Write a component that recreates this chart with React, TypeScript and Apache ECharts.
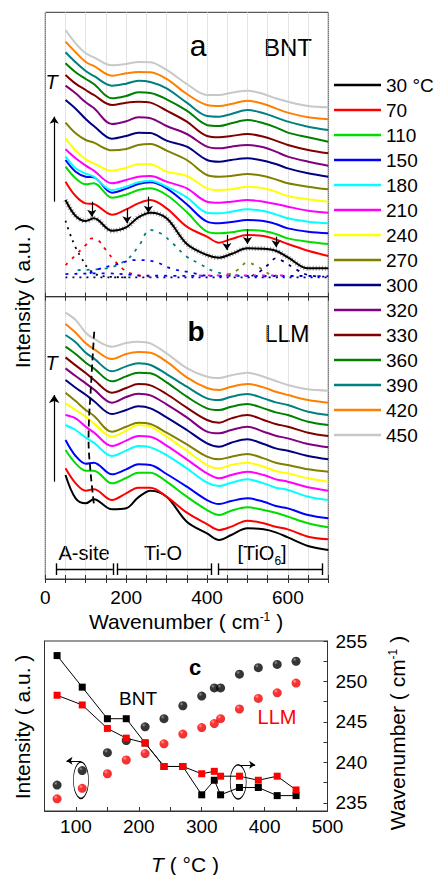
import React, { useEffect, useRef } from 'react';
import * as echarts from 'echarts';

const FONT = 'Liberation Sans, Arial, sans-serif';

// ---------- panels a & b : Raman spectra ----------
const TEMPS = ['30 °C', '70', '110', '150', '180', '210', '240', '270', '300', '320', '330', '360', '390', '420', '450'];
const COLORS = ['#000000', '#ff0000', '#00dd00', '#0000ff', '#00ffff', '#ff00ff', '#ffff00', '#808000', '#000080', '#800080', '#800000', '#008000', '#008080', '#ff8000', '#c8c8c8'];
const WAVENUMBERS = [50, 75, 100, 120, 165, 200, 230, 260, 300, 350, 400, 430, 460, 500, 540, 570, 600, 650, 700];

// BNT (offset intensity, a.u.)
const bnt30 = [290, 242, 227, 235, 198, 208, 238, 252, 235, 158, 125, 117, 128, 145, 144, 138, 118, 85, 85];
const bnt70 = [345, 302, 280, 278, 246, 262, 280, 290, 265, 210, 180, 162, 173, 185, 182, 172, 158, 138, 122];
const bnt110 = [390, 355, 337, 340, 297, 306, 320, 325, 305, 254, 195, 190, 193, 200, 197, 188, 175, 165, 158];
const bnt150 = [410, 375, 360, 358, 312, 324, 338, 343, 325, 277, 225, 220, 224, 230, 227, 218, 205, 195, 190];
const bnt180 = [420, 385, 369, 360, 320, 330, 343, 348, 330, 298, 252, 250, 255, 262, 257, 247, 235, 225, 220];
const bnt210 = [442, 415, 393, 378, 340, 350, 360, 362, 345, 325, 285, 282, 285, 290, 285, 278, 270, 258, 252];
const bnt240 = [475, 438, 412, 400, 378, 387, 397, 397, 375, 362, 325, 320, 322, 330, 325, 315, 302, 292, 285];
const bnt270 = [522, 490, 470, 462, 439, 443, 455, 458, 438, 410, 365, 360, 362, 368, 362, 352, 340, 330, 322];
const bnt300 = [590, 564, 533, 512, 474, 482, 492, 491, 468, 450, 410, 405, 410, 415, 408, 398, 385, 370, 360];
const bnt320 = [633, 610, 583, 566, 518, 526, 538, 535, 512, 488, 450, 445, 450, 455, 448, 435, 420, 405, 393];
const bnt330 = [665, 639, 620, 605, 575, 582, 585, 582, 558, 525, 482, 478, 482, 488, 480, 468, 455, 440, 430];
const bnt360 = [700, 673, 653, 638, 595, 602, 613, 611, 592, 558, 515, 512, 520, 530, 520, 508, 492, 478, 465];
const bnt390 = [733, 703, 677, 662, 633, 639, 648, 644, 625, 582, 542, 540, 548, 560, 550, 538, 525, 510, 500];
const bnt420 = [765, 733, 704, 692, 663, 670, 674, 673, 653, 608, 575, 572, 578, 588, 578, 565, 552, 538, 532];
const bnt450 = [800, 760, 730, 718, 694, 698, 704, 703, 680, 638, 605, 605, 612, 618, 608, 595, 585, 572, 568];
const BNT_SPECTRA = [bnt30, bnt70, bnt110, bnt150, bnt180, bnt210, bnt240, bnt270, bnt300, bnt320, bnt330, bnt360, bnt390, bnt420, bnt450];

// LLM (offset intensity, a.u.)
const llm30 = [312, 242, 227, 239, 209, 212, 245, 265, 247, 172, 137, 117, 132, 152, 149, 140, 125, 99, 87];
const llm70 = [332, 287, 265, 269, 237, 257, 274, 274, 247, 199, 165, 147, 157, 175, 167, 157, 149, 127, 119];
const llm110 = [387, 347, 325, 325, 287, 303, 319, 319, 292, 247, 207, 192, 205, 215, 207, 199, 187, 167, 155];
const llm150 = [417, 369, 346, 349, 314, 329, 344, 342, 315, 277, 237, 225, 234, 242, 232, 219, 212, 192, 182];
const llm180 = [462, 447, 424, 409, 369, 385, 399, 395, 372, 332, 289, 279, 289, 299, 287, 274, 267, 247, 237];
const llm210 = [492, 482, 457, 440, 399, 415, 429, 427, 400, 359, 317, 302, 312, 322, 312, 299, 292, 275, 265];
const llm240 = [527, 507, 487, 467, 427, 445, 462, 457, 427, 385, 342, 332, 342, 349, 337, 324, 317, 302, 292];
const llm270 = [559, 534, 507, 490, 442, 457, 469, 465, 439, 404, 367, 359, 367, 375, 362, 349, 342, 329, 322];
const llm300 = [597, 574, 553, 534, 495, 507, 518, 512, 485, 447, 407, 397, 409, 419, 405, 392, 385, 369, 359];
const llm320 = [632, 609, 587, 569, 529, 546, 556, 551, 524, 485, 442, 437, 447, 457, 442, 430, 422, 405, 395];
const llm330 = [665, 641, 618, 598, 559, 573, 585, 581, 555, 514, 477, 469, 482, 492, 477, 465, 457, 439, 429];
const llm360 = [697, 675, 649, 632, 593, 608, 619, 617, 590, 547, 512, 507, 517, 525, 512, 500, 492, 472, 462];
const llm390 = [732, 710, 679, 662, 623, 638, 647, 642, 615, 577, 542, 537, 547, 555, 542, 530, 522, 502, 492];
const llm420 = [765, 739, 707, 690, 660, 675, 681, 679, 652, 605, 573, 567, 577, 585, 575, 562, 552, 537, 529];
const llm450 = [799, 777, 739, 721, 697, 708, 712, 707, 677, 633, 607, 603, 611, 619, 607, 594, 582, 569, 565];
const LLM_SPECTRA = [llm30, llm70, llm110, llm150, llm180, llm210, llm240, llm270, llm300, llm320, llm330, llm360, llm390, llm420, llm450];

// BNT 30 °C fitted components [wavenumber, intensity]
const fitBlack = [[50, 228], [60, 192], [75, 148], [90, 115], [110, 80], [140, 62], [200, 58]];
const fitRed = [[50, 95], [75, 125], [100, 155], [115, 175], [130, 170], [150, 140], [170, 110], [190, 85], [215, 68], [260, 60]];
const fitTeal = [[80, 80], [150, 85], [200, 110], [230, 150], [260, 200], [285, 190], [315, 160], [350, 120], [380, 100], [420, 75], [470, 65], [550, 60]];
const fitBlue = [[110, 70], [130, 82], [170, 95], [225, 110], [270, 105], [310, 85], [350, 75], [400, 62]];
const fitOlive = [[430, 60], [450, 65], [475, 80], [500, 102], [525, 90], [555, 68], [590, 60]];
const fitNavy = [[510, 62], [530, 75], [555, 100], [570, 115], [590, 105], [620, 82], [650, 65], [690, 60]];
const fitBaseNavy = [[50, 58], [700, 58]];
const fitBaseBlue = [[50, 68], [150, 70], [250, 63], [700, 62]];
const fitBaseMagenta = [[380, 64], [600, 64]];

// peak markers on BNT 30 °C : [wavenumber, from, to]
const peakArrows = [[115, 285, 240], [202, 265, 220], [255, 300, 252], [449, 185, 140], [500, 202, 158], [571, 180, 148]];
// A-site peak position guide in LLM
const aSiteGuide = [[121, 742], [113, 580], [107, 420], [112, 320], [121, 217]];
// band ranges: [from, to]
const bands = [[26.5, 167], [177, 411], [429, 685]];

// ---------- panel c ----------
const T_C = [70, 110, 150, 180, 210, 240, 270, 300, 320, 330, 360, 390, 420, 450];
const bntWavenumber = [253.2, 249.3, 245.4, 245.4, 242.4, 239.5, 239.5, 236.0, 237.8, 236.0, 236.9, 236.9, 235.9, 235.9];
const llmWavenumber = [248.3, 247.1, 244.2, 243.0, 242.4, 239.5, 239.5, 238.6, 238.9, 238.3, 238.3, 237.8, 238.3, 236.6];
const bntIntensity = [237.2, 239.0, 241.2, 242.7, 244.4, 245.4, 247.0, 248.2, 249.2, 249.2, 250.9, 251.7, 252.1, 252.5];
const llmIntensity = [235.5, 236.8, 238.6, 240.3, 241.1, 242.3, 243.5, 244.3, 244.8, 245.4, 246.6, 247.9, 248.6, 249.8];
const WN_TICKS = [235, 240, 245, 250, 255];
const WN_MINOR = [235, 237.5, 240, 242.5, 245, 247.5, 250, 252.5, 255];

const pairs = (xs: number[], ys: number[]) => xs.map((x, i) => [x, ys[i]]);

function buildOption() {
  const spectra = (set: number[][], xIdx: number, yIdx: number) =>
    set.map((vals, i) => ({
      name: TEMPS[i],
      type: 'line',
      xAxisIndex: xIdx,
      yAxisIndex: yIdx,
      data: pairs(WAVENUMBERS, vals),
      smooth: 0.35,
      symbol: 'none',
      lineStyle: { color: COLORS[i], width: 2 },
      itemStyle: { color: COLORS[i] },
      z: 4,
      silent: true,
    }));

  const fit = (name: string, data: number[][], color: string, type: any) => ({
    name,
    type: 'line',
    xAxisIndex: 1,
    yAxisIndex: 0,
    data,
    smooth: 0.4,
    symbol: 'none',
    lineStyle: { color, width: 1.8, type },
    z: 2,
    silent: true,
  });

  const arrowML = (segs: number[][][], size = 7) => ({
    silent: true,
    symbol: ['none', 'arrow'],
    symbolSize: size,
    label: { show: false },
    lineStyle: { color: '#000', width: 1.2, type: 'solid' },
    data: segs.map(([a, b]) => [{ coord: a }, { coord: b }]),
  });

  const bandSegs: number[][][] = [];
  bands.forEach(([a, b]) => {
    bandSegs.push([[a, 29], [b, 29]]);
    bandSegs.push([[a, 12], [a, 47]]);
    bandSegs.push([[b, 12], [b, 47]]);
  });

  const aAxisCommon = {
    type: 'value',
    min: 0,
    max: 700,
    interval: 50,
    axisLine: { show: true, lineStyle: { color: '#333', width: 1 } },
    axisTick: { show: true, inside: true, length: 4, lineStyle: { color: '#333' } },
    axisLabel: { show: false },
    splitLine: { show: false },
  };
  const dottedGrid = { show: true, lineStyle: { color: '#c8c8c8', type: 'dotted', width: 1 } };

  const gridBorder = { show: true, borderColor: '#333', borderWidth: 1, backgroundColor: 'transparent', outerBoundsMode: 'none' };

  const sphere = (light: string, mid: string, dark: string) => ({
    type: 'radial', x: 0.35, y: 0.3, r: 0.75,
    colorStops: [{ offset: 0, color: light }, { offset: 0.3, color: mid }, { offset: 1, color: dark }],
  });

  const txt = (x: number, y: number, text: string, size: number, extra: any = {}, rot = 0) => ({
    type: 'text',
    x, y,
    rotation: rot,
    silent: true,
    style: {
      text, fontSize: size, fontFamily: FONT, fill: '#000',
      align: 'center', verticalAlign: 'middle', ...extra,
    },
  });

  const series: any[] = [
    fit('fit-black', fitBlack, '#000000', [2, 5]),
    fit('fit-red', fitRed, '#ff0000', [3, 6]),
    fit('fit-teal', fitTeal, '#008080', [3, 6]),
    fit('fit-blue', fitBlue, '#0000ff', [3, 6]),
    fit('fit-olive', fitOlive, '#808000', [3, 6]),
    fit('fit-navy', fitNavy, '#000080', [3, 6]),
    fit('fit-base-navy', fitBaseNavy, '#000080', [2, 5]),
    fit('fit-base-blue', fitBaseBlue, '#0000ff', [3, 6]),
    fit('fit-base-magenta', fitBaseMagenta, '#ff00ff', [3, 6]),
    {
      name: 'data-30',
      type: 'line', xAxisIndex: 1, yAxisIndex: 0,
      data: pairs(WAVENUMBERS, bnt30), smooth: 0.35, symbol: 'none',
      lineStyle: { color: '#9a9a9a', width: 5, type: [1, 2] }, z: 3, silent: true,
      markLine: arrowML([
        ...peakArrows.map(([w, a, b]) => [[w, a], [w, b]]),
        [[22, 285], [22, 540]],
      ]),
    },
    ...spectra(BNT_SPECTRA, 1, 0),
    ...spectra(LLM_SPECTRA, 3, 1),
    {
      name: 'guide',
      type: 'line', xAxisIndex: 3, yAxisIndex: 1,
      data: aSiteGuide, smooth: 0.4, symbol: 'none',
      lineStyle: { color: '#000', width: 1.8, type: [7, 4] }, z: 6, silent: true,
      markLine: {
        silent: true, symbol: 'none', label: { show: false },
        lineStyle: { color: '#000', width: 1.4, type: 'solid' },
        data: bandSegs.map(([a, b]) => [{ coord: a }, { coord: b }]),
      },
    },
    {
      name: 'guide-arrow',
      type: 'line', xAxisIndex: 3, yAxisIndex: 1,
      data: [[22, 292]], symbol: 'none', lineStyle: { opacity: 0 }, silent: true,
      markLine: arrowML([[[22, 292], [22, 552]]], 8),
    },
    // panel c
    {
      name: 'BNT wavenumber',
      type: 'line', xAxisIndex: 4, yAxisIndex: 2,
      data: pairs(T_C, bntWavenumber),
      symbol: 'rect', symbolSize: 7,
      lineStyle: { color: '#000', width: 1 },
      itemStyle: { color: '#000' }, z: 4, silent: true,
    },
    {
      name: 'LLM wavenumber',
      type: 'line', xAxisIndex: 4, yAxisIndex: 2,
      data: pairs(T_C, llmWavenumber),
      symbol: 'rect', symbolSize: 7,
      lineStyle: { color: '#000', width: 1 },
      itemStyle: { color: '#ff0000' }, z: 5, silent: true,
      markPoint: {
        silent: true,
        label: { show: false },
        itemStyle: { color: 'rgba(0,0,0,0)', borderColor: '#000', borderWidth: 1 },
        data: [
          { coord: [108, 237.8], symbol: 'circle', symbolSize: [15, 36] },
          { coord: [358, 237.6], symbol: 'circle', symbolSize: [16, 34] },
        ],
      },
      markLine: {
        silent: true, symbol: ['none', 'arrow'], symbolSize: 6, label: { show: false },
        lineStyle: { color: '#000', width: 1, type: 'solid' },
        data: [
          [{ coord: [108, 240.2] }, { coord: [85, 240.2] }],
          [{ coord: [359, 239.7] }, { coord: [385, 239.7] }],
        ],
      },
    },
    {
      name: 'BNT intensity',
      type: 'scatter', xAxisIndex: 4, yAxisIndex: 3,
      data: pairs(T_C, bntIntensity),
      symbol: 'circle', symbolSize: 9,
      itemStyle: { color: sphere('#7a7a7a', '#050505', '#000000') }, z: 4, silent: true,
    },
    {
      name: 'LLM intensity',
      type: 'scatter', xAxisIndex: 4, yAxisIndex: 3,
      data: pairs(T_C, llmIntensity),
      symbol: 'circle', symbolSize: 9,
      itemStyle: { color: sphere('#ff9090', '#ff0000', '#e00000') }, z: 4, silent: true,
    },
  ];

  return {
    animation: false,
    backgroundColor: '#ffffff',
    textStyle: { fontFamily: FONT, color: '#000' },
    grid: [
      { ...gridBorder, left: 45.3, top: 12.3, width: 283, height: 284.4 },
      { ...gridBorder, left: 45.3, top: 296.7, width: 283, height: 282.3 },
      { ...gridBorder, left: 44.5, top: 641, width: 283, height: 170 },
    ],
    xAxis: [
      { ...aAxisCommon, gridIndex: 0, position: 'top', splitLine: dottedGrid },
      { ...aAxisCommon, gridIndex: 0, position: 'bottom' },
      { ...aAxisCommon, gridIndex: 1, position: 'top', splitLine: dottedGrid },
      {
        ...aAxisCommon, gridIndex: 1, position: 'bottom',
        axisLabel: {
          show: true, margin: 9, fontSize: 19, fontFamily: FONT, color: '#000',
          formatter: (v: number) => (v % 200 === 0 ? String(v) : ''),
        },
      },
      {
        type: 'value', gridIndex: 2, position: 'bottom', min: 50, max: 500, interval: 50,
        axisLine: { show: true, lineStyle: { color: '#333' } },
        axisTick: { show: true, inside: true, length: 4, lineStyle: { color: '#333' } },
        axisLabel: {
          show: true, margin: 6, fontSize: 19, fontFamily: FONT, color: '#000',
          formatter: (v: number) => (v % 100 === 0 ? String(v) : ''),
        },
        splitLine: { show: false },
      },
    ],
    yAxis: [
      { type: 'value', gridIndex: 0, min: 0, max: 853, show: false },
      { type: 'value', gridIndex: 1, min: 0, max: 847, show: false },
      {
        type: 'value', gridIndex: 2, position: 'right', min: 234, max: 255,
        axisLine: { show: true, lineStyle: { color: '#333' } },
        axisTick: { show: true, inside: true, length: 4, customValues: WN_MINOR, lineStyle: { color: '#333' } },
        axisLabel: { show: true, margin: 8, fontSize: 19, fontFamily: FONT, color: '#000', customValues: WN_TICKS },
        splitLine: { show: false },
      },
      {
        type: 'value', gridIndex: 2, position: 'left', min: 234, max: 255,
        axisLine: { show: true, lineStyle: { color: '#333' } },
        axisTick: { show: false }, axisLabel: { show: false }, splitLine: { show: false },
      },
    ],
    legend: {
      data: TEMPS,
      orient: 'vertical',
      left: 334,
      top: 72.5,
      icon: 'rect',
      itemWidth: 47,
      itemHeight: 2.5,
      itemGap: 0,
      padding: 0,
      selectedMode: false,
      textStyle: { fontSize: 19, lineHeight: 25, height: 25, fontFamily: FONT, color: '#000' },
    },
    graphic: [
      txt(198, 45, 'a', 30),
      txt(288, 47, 'BNT', 24),
      txt(51.7, 82, 'T', 20, { fontStyle: 'italic' }),
      txt(196, 331, 'b', 28, { fontWeight: 'bold' }),
      txt(287, 334, 'LLM', 23),
      txt(51.7, 363, 'T', 20, { fontStyle: 'italic' }),
      txt(22, 296, 'Intensity ( a.u. )', 21, {}, Math.PI / 2),
      txt(84, 553, 'A-site', 20),
      txt(163, 553, 'Ti-O', 20),
      txt(262, 553, '[TiO{sub|6}]', 20, { lineHeight: 28, rich: { sub: { fontSize: 12, fontFamily: FONT, fill: '#000', verticalAlign: 'bottom' } } }),
      txt(186, 621, 'Wavenumber ( cm{sup|-1} )', 21, { rich: { sup: { fontSize: 12, fontFamily: FONT, fill: '#000', verticalAlign: 'top' } } }),
      txt(195, 667, 'c', 22, { fontWeight: 'bold' }),
      txt(138, 698, 'BNT', 19),
      txt(277, 717, 'LLM', 20, { fill: '#ff0000' }),
      txt(22, 727, 'Intensity ( a.u. )', 21, {}, Math.PI / 2),
      txt(397, 733, 'Wavenumber ( cm{sup|-1} )', 21, { rich: { sup: { fontSize: 12, fontFamily: FONT, fill: '#000', verticalAlign: 'top' } } }, Math.PI / 2),
      txt(185, 864, '{it|T} ( °C )', 21, { rich: { it: { fontStyle: 'italic', fontSize: 21, fontFamily: FONT, fill: '#000' } } }),
    ],
    series,
  };
}

export default function App() {
  const ref = useRef<HTMLDivElement>(null);
  useEffect(() => {
    if (!ref.current) return;
    const chart = echarts.init(ref.current, null, { renderer: 'svg' });
    chart.setOption(buildOption() as any);
    return () => chart.dispose();
  }, []);
  return (
    <div
      ref={ref}
      style={{ position: 'absolute', left: 0, top: 0, width: 434, height: 875, background: '#fff' }}
    />
  );
}
